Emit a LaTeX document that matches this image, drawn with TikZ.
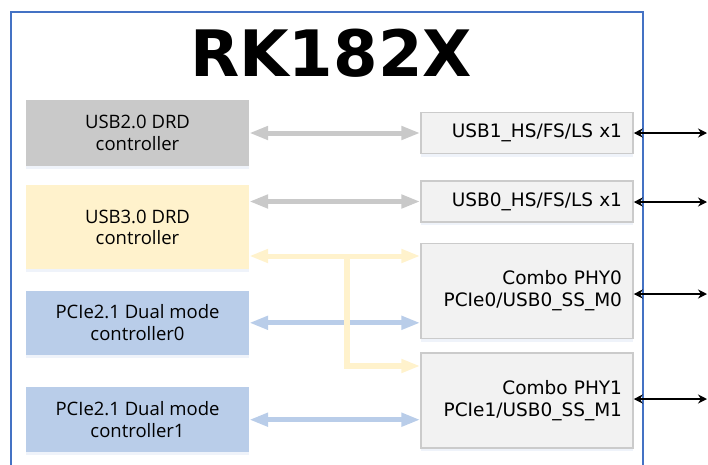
\documentclass[tikz,border=0pt]{standalone}
\usepackage{fontspec}
\setmainfont{DejaVu Sans}
\newfontfamily\ctrlfont{Open Sans}
\usepackage{xcolor}
\usepackage{tikz}
\usetikzlibrary{positioning}
\usetikzlibrary{arrows.meta}
\usetikzlibrary{shadows}
\definecolor{chipblue}{HTML}{4472C4}
\definecolor{usbgray}{HTML}{C9C9C9}
\definecolor{usbyellow}{HTML}{FFF2CC}
\definecolor{pcieblue}{HTML}{B9CDE9}
\definecolor{phyfill}{HTML}{F2F2F2}
\definecolor{phyline}{HTML}{CBCBCB}
\tikzset{softshadow/.style={drop shadow={shadow xshift=0pt, shadow yshift=-3pt, fill=chipblue!25, opacity=.35}}}
\tikzset{ctrl/.style={softshadow, minimum width=223pt, align=center, inner sep=0pt, font=\ctrlfont\fontsize{18.5}{21.7}\selectfont}}
\tikzset{phy/.style={softshadow, draw=phyline, line width=1.5pt, fill=phyfill, minimum width=212pt, text width=190pt, align=right, inner xsep=10pt, inner ysep=0pt, font=\fontsize{18.5}{22}\selectfont}}
\tikzset{bus/.style={line width=5pt, {Triangle[length=19pt,width=13pt]}-{Triangle[length=19pt,width=13pt]}}}
\tikzset{busend/.style={line width=6pt, -{Triangle[length=19pt,width=13pt]}}}
\tikzset{pin/.style={line width=1.5pt, {Stealth[length=9pt,width=9pt]}-{Stealth[length=9pt,width=9pt]}}}

\begin{document}
\begin{tikzpicture}[x=1pt,y=-1pt]
\useasboundingbox (0,0) rectangle (708,464);
\clip (0,0) rectangle (708,464);
\draw[chipblue, line width=2pt] (10.5,12.3) rectangle (642.7,480);
\node[font=\bfseries\fontsize{64}{70}\selectfont, anchor=base] (title) at (331,76.7) {RK182X};

% controllers
\node[ctrl, fill=usbgray, minimum height=66pt] (usbtwo) at (137.5,133) {USB2.0 DRD\\controller};
\node[ctrl, fill=usbyellow, minimum height=84pt, below=19pt of usbtwo] (usbthree) {USB3.0 DRD\\controller};
\node[ctrl, fill=pcieblue, minimum height=64pt, below=21pt of usbthree] (pciezero) {PCIe2.1 Dual mode\\controller0};
\node[ctrl, fill=pcieblue, minimum height=65pt, below=32pt of pciezero] (pcieone) {PCIe2.1 Dual mode\\controller1};

% phys
\node[phy, minimum height=41pt] (usbone) at (527,133) {USB1\_HS/FS/LS x1};
\node[phy, minimum height=41pt, below=26pt of usbone] (usbzero) {USB0\_HS/FS/LS x1};
\node[phy, minimum height=95pt, below=20pt of usbzero] (phyzero) {Combo PHY0\\PCIe0/USB0\_SS\_M0};
\node[phy, minimum height=95pt, below=13pt of phyzero] (phyone) {Combo PHY1\\PCIe1/USB0\_SS\_M1};

\coordinate (split) at (347,256);
\coordinate (tap) at (347,366);

\draw[bus, color=usbgray] (usbtwo.east) -- (usbone.west);
\draw[bus, color=usbgray] (usbthree.east |- usbzero.west) -- (usbzero.west);
\draw[bus, color=pcieblue] (pciezero.east) -- (phyzero.west |- pciezero.east);
\draw[bus, color=pcieblue] (pcieone.east) -- (phyone.west |- pcieone.east);
\draw[bus, color=usbyellow] (usbthree.east |- split) -- (phyzero.west |- split);
\draw[busend, color=usbyellow] (split) -- (tap) -- (phyone.west |- tap);

\coordinate (pina) at (707,133);
\coordinate (pinb) at (707,202);
\coordinate (pinc) at (707,294);
\coordinate (pind) at (707,399);
\draw[pin] (usbone.east |- pina) -- (pina);
\draw[pin] (usbzero.east |- pinb) -- (pinb);
\draw[pin] (phyzero.east |- pinc) -- (pinc);
\draw[pin] (phyone.east |- pind) -- (pind);
\end{tikzpicture}
\end{document}
